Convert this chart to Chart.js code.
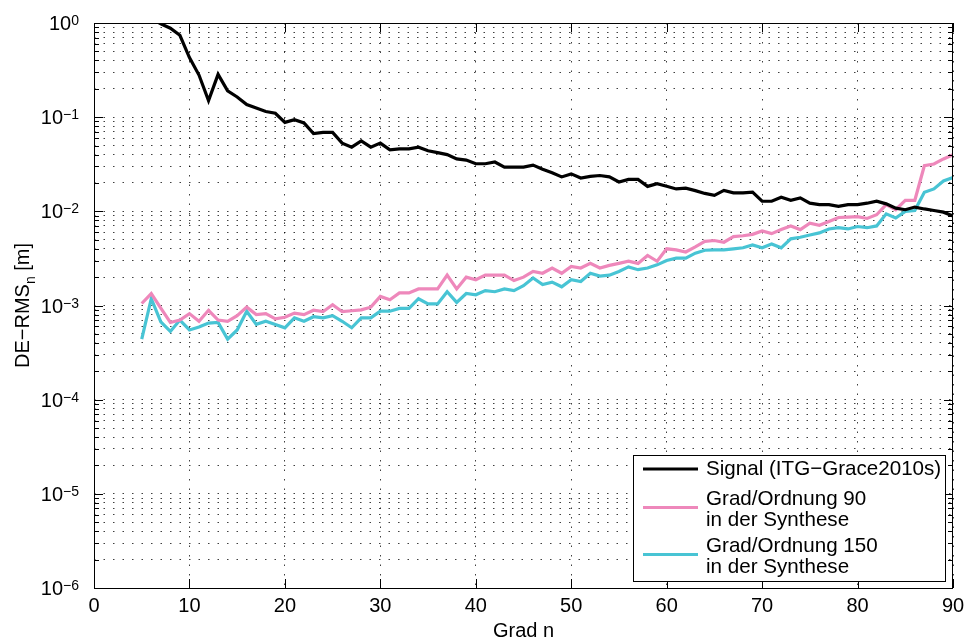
<!DOCTYPE html>
<html>
<head>
<meta charset="utf-8">
<script src="https://cdn.jsdelivr.net/npm/chart.js@4.4.1/dist/chart.umd.min.js"></script>
<style>
  html, body { margin: 0; padding: 0; background: #fff; }
  canvas { display: block; }
</style>
</head>
<body>
<canvas id="c" width="968" height="639"></canvas>
<script>
'use strict';

// degree ranges for the three curves
const signalDeg = [];
for (let n = 6; n <= 90; n++) signalDeg.push(n);
const synthDeg = [];
for (let n = 5; n <= 90; n++) synthDeg.push(n);

// values (metres)
const signalRms = [
  1.12, 0.98, 0.88, 0.74, 0.43, 0.28, 0.15, 0.285, 0.19, 0.164,
  0.136, 0.125, 0.115, 0.110, 0.088, 0.094, 0.087, 0.067, 0.069, 0.069,
  0.053, 0.048, 0.056, 0.048, 0.053, 0.045, 0.046, 0.046, 0.048, 0.044,
  0.042, 0.040, 0.036, 0.035, 0.032, 0.032, 0.0334, 0.0295, 0.0295, 0.0295,
  0.031, 0.028, 0.0257, 0.0232, 0.025, 0.0226, 0.0235, 0.024, 0.0232, 0.0205,
  0.0218, 0.0218, 0.0184, 0.0197, 0.0185, 0.0173, 0.0176, 0.0166, 0.0155, 0.0148,
  0.0167, 0.0157, 0.0157, 0.016, 0.0128, 0.0128, 0.0141, 0.0131, 0.0139, 0.0122,
  0.0118, 0.0118, 0.0113, 0.0118, 0.0118, 0.0122, 0.0128, 0.012, 0.0108, 0.0104,
  0.0111, 0.0106, 0.0102, 0.0098, 0.0089
];
const rms90 = [
  0.00105, 0.00134, 0.00094, 0.00066, 0.00070, 0.00082, 0.00068, 0.00089, 0.00070, 0.00068,
  0.00078, 0.00096, 0.00080, 0.00082, 0.00072, 0.00075, 0.00083, 0.00080, 0.00089, 0.00086,
  0.00102, 0.00086, 0.00088, 0.00090, 0.00096, 0.00125, 0.00115, 0.00136, 0.00136, 0.0015,
  0.0015, 0.0015, 0.0021, 0.0015, 0.0020, 0.00188, 0.0021, 0.0021, 0.0021, 0.00184,
  0.0020, 0.0023, 0.0022, 0.0025, 0.0022, 0.0026, 0.0025, 0.0028, 0.0025, 0.00267,
  0.0028, 0.00295, 0.0028, 0.0034, 0.00295, 0.0040, 0.0039, 0.0037, 0.0042, 0.0048,
  0.0049, 0.0047, 0.0054, 0.0055, 0.0057, 0.0062, 0.0058, 0.0064, 0.0070, 0.0064,
  0.0075, 0.0071, 0.0078, 0.0086, 0.0087, 0.0088, 0.0084, 0.0092, 0.0118, 0.0104,
  0.0131, 0.0131, 0.0305, 0.0318, 0.036, 0.040
];
const rms150 = [
  0.00044, 0.00118, 0.00067, 0.00053, 0.00070, 0.00055, 0.00059, 0.00065, 0.00066, 0.00044,
  0.00055, 0.00087, 0.00063, 0.00068, 0.00063, 0.00058, 0.00074, 0.00068, 0.00076, 0.00074,
  0.00078, 0.00068, 0.00058, 0.00074, 0.00074, 0.00087, 0.00087, 0.00093, 0.00093, 0.00118,
  0.00104, 0.00104, 0.0014, 0.00108, 0.00134, 0.0013, 0.00144, 0.0014, 0.0015, 0.00144,
  0.00162, 0.00196, 0.00167, 0.00177, 0.00158, 0.00188, 0.0018, 0.0022, 0.00205, 0.0021,
  0.0023, 0.00257, 0.0024, 0.0025, 0.0027, 0.0030, 0.00318, 0.00318, 0.0036, 0.00386,
  0.0039, 0.0039, 0.0040, 0.0041, 0.0044, 0.0041, 0.0045, 0.0041, 0.0051, 0.0053,
  0.0056, 0.0059, 0.0065, 0.0067, 0.0065, 0.0069, 0.0067, 0.0070, 0.0094, 0.0085,
  0.0100, 0.0102, 0.0159, 0.0173, 0.021, 0.0229
];

const seriesLabels = [
  ['Signal (ITG\u2212Grace2010s)'],
  ['Grad/Ordnung 90', 'in der Synthese'],
  ['Grad/Ordnung 150', 'in der Synthese'],
];
const seriesColors = ['#000000', '#ee88bb', '#48c4d4'];

const xTicks = [0, 10, 20, 30, 40, 50, 60, 70, 80, 90];
const yExponents = [0, -1, -2, -3, -4, -5, -6];
const yMinorMult = [2, 3, 4, 5, 6, 7, 8, 9];

const FONT = '"Liberation Sans", Arial, Helvetica, sans-serif';
const GRID = 'rgba(0,0,0,0.75)';

const yGridValues = [];
yExponents.forEach(e => {
  yGridValues.push(Math.pow(10, e));
  if (e < 0) yMinorMult.forEach(m => yGridValues.push(m * Math.pow(10, e)));
});

const pts = (xs, ys) => xs.map((x, i) => ({ x, y: ys[i] }));

// frame, inward ticks, tick labels, axis titles and the boxed legend
const matlabAxes = {
  id: 'matlabAxes',
  afterDraw(chart) {
    const { ctx, chartArea: a, scales: { x, y } } = chart;
    ctx.save();
    ctx.strokeStyle = '#000';
    ctx.lineWidth = 1;

    ctx.beginPath();
    xTicks.forEach(v => {
      const px = Math.round(x.getPixelForValue(v)) + 0.5;
      ctx.moveTo(px, a.bottom); ctx.lineTo(px, a.bottom - 9);
      ctx.moveTo(px, a.top); ctx.lineTo(px, a.top + 9);
    });
    yGridValues.forEach(v => {
      const py = Math.round(y.getPixelForValue(v)) + 0.5;
      const len = yExponents.some(e => Math.abs(Math.pow(10, e) - v) < v * 1e-6) ? 9 : 5;
      ctx.moveTo(a.left, py); ctx.lineTo(a.left + len, py);
      ctx.moveTo(a.right, py); ctx.lineTo(a.right - len, py);
    });
    ctx.stroke();
    ctx.strokeRect(Math.round(a.left) + 0.5, Math.round(a.top) + 0.5,
      Math.round(a.right - a.left) - 1, Math.round(a.bottom - a.top));

    // x tick labels
    ctx.fillStyle = '#000';
    ctx.font = '20px ' + FONT;
    ctx.textAlign = 'center';
    ctx.textBaseline = 'alphabetic';
    xTicks.forEach(v => ctx.fillText(String(v), x.getPixelForValue(v), a.bottom + 24));
    ctx.fillText('Grad n', (a.left + a.right) / 2, 637);

    // y tick labels 10^k
    yExponents.forEach(e => {
      const py = y.getPixelForValue(Math.pow(10, e));
      const sup = e === 0 ? '0' : '\u2212' + Math.abs(e);
      ctx.font = '14px ' + FONT;
      const ws = ctx.measureText(sup).width;
      ctx.font = '20px ' + FONT;
      const wb = ctx.measureText('10').width;
      const right = a.left - 15;
      ctx.textAlign = 'left';
      ctx.fillText('10', right - ws - wb, py + 7);
      ctx.font = '14px ' + FONT;
      ctx.fillText(sup, right - ws, py + 2);
    });

    // y axis title with subscript n
    ctx.save();
    ctx.translate(29, (a.top + a.bottom) / 2);
    ctx.rotate(-Math.PI / 2);
    ctx.font = '20px ' + FONT;
    const t1 = 'DE\u2212RMS', t2 = ' [m]';
    const w1 = ctx.measureText(t1).width, w2 = ctx.measureText(t2).width;
    ctx.font = '14px ' + FONT;
    const wn = ctx.measureText('n').width;
    let sx = -(w1 + wn + w2) / 2;
    ctx.textAlign = 'left';
    ctx.font = '20px ' + FONT;
    ctx.fillText(t1, sx, 0);
    ctx.font = '14px ' + FONT;
    ctx.fillText('n', sx + w1, 6);
    ctx.font = '20px ' + FONT;
    ctx.fillText(t2, sx + w1 + wn, 0);
    ctx.restore();

    // legend box
    const box = { l: 633, t: 455, r: 945, b: 581 };
    ctx.fillStyle = '#fff';
    ctx.fillRect(box.l, box.t, box.r - box.l, box.b - box.t);
    ctx.strokeStyle = '#000';
    ctx.lineWidth = 1;
    ctx.strokeRect(box.l + 0.5, box.t + 0.5, box.r - box.l, box.b - box.t);
    ctx.font = '20.6px ' + FONT;
    ctx.textBaseline = 'middle';
    ctx.textAlign = 'left';
    const firstLine = [469, 499, 546];
    chart.data.datasets.forEach((ds, i) => {
      const lines = ds.label.split('\n');
      const y0 = firstLine[i];
      const sy = lines.length > 1 ? y0 + 8.5 : y0;
      ctx.strokeStyle = ds.borderColor;
      ctx.lineWidth = 3;
      ctx.beginPath();
      ctx.moveTo(643, sy); ctx.lineTo(698, sy);
      ctx.stroke();
      ctx.fillStyle = '#000';
      lines.forEach((s, k) => ctx.fillText(s, 706, y0 + k * 21.3));
    });
    ctx.restore();
  }
};

new Chart(document.getElementById('c'), {
  type: 'line',
  data: {
    datasets: [
      { label: seriesLabels[0].join('\n'), data: pts(signalDeg, signalRms), borderColor: seriesColors[0] },
      { label: seriesLabels[1].join('\n'), data: pts(synthDeg, rms90), borderColor: seriesColors[1] },
      { label: seriesLabels[2].join('\n'), data: pts(synthDeg, rms150), borderColor: seriesColors[2] },
    ].map(d => Object.assign(d, { borderWidth: 3.2, pointRadius: 0, tension: 0, fill: false, clip: 0, borderJoinStyle: 'miter' })),
  },
  options: {
    responsive: false,
    animation: false,
    events: [],
    layout: { padding: { top: 23, right: 15, left: 0, bottom: 0 } },
    plugins: { legend: { display: false }, tooltip: { enabled: false } },
    scales: {
      x: {
        type: 'linear', min: 0, max: 90,
        ticks: { display: false, stepSize: 10 },
        grid: { color: GRID, lineWidth: 1, drawTicks: false },
        border: { display: false, dash: [1.5, 8] },
        afterFit: s => { s.height = 51; },
      },
      y: {
        type: 'logarithmic', min: 1e-6, max: 1,
        ticks: { display: false },
        afterBuildTicks: s => { s.ticks = yGridValues.map(v => ({ value: v })); },
        grid: { color: GRID, lineWidth: 1, drawTicks: false },
        border: { display: false, dash: [1.5, 8] },
        afterFit: s => { s.width = 94; },
      },
    },
  },
  plugins: [matlabAxes],
});
</script>
</body>
</html>
